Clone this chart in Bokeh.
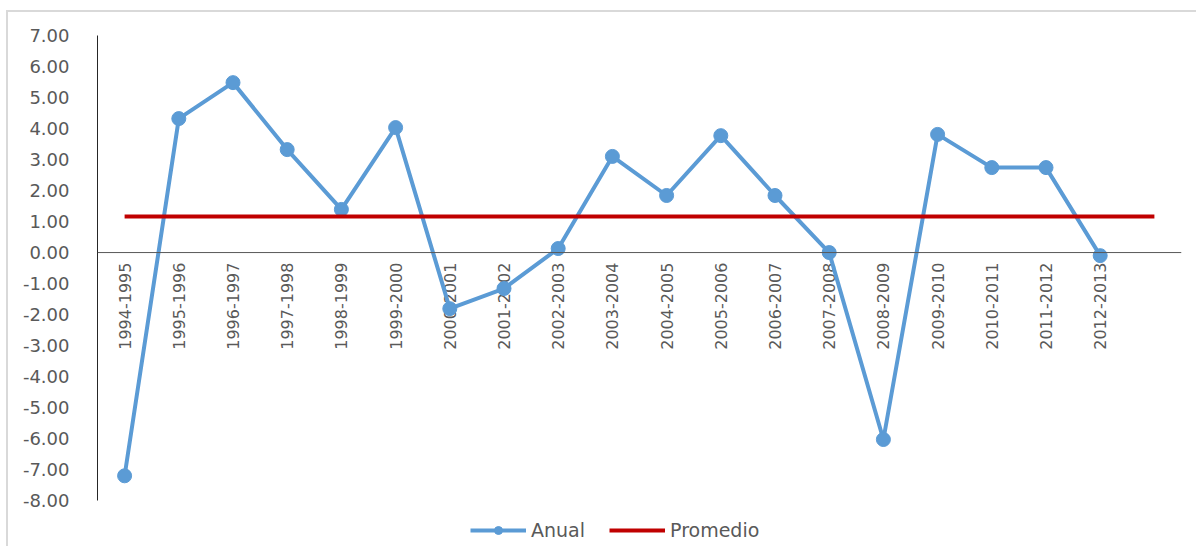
import math
from bokeh.plotting import figure
from bokeh.models import (ColumnDataSource, FixedTicker, PrintfTickFormatter, Span,
                          Legend, LegendItem, FactorRange)
from bokeh.core.properties import value
from bokeh.embed import file_html
from bokeh.resources import INLINE

# ---- data ----
periods = ["1994-1995", "1995-1996", "1996-1997", "1997-1998", "1998-1999",
           "1999-2000", "2000-2001", "2001-2002", "2002-2003", "2003-2004",
           "2004-2005", "2005-2006", "2006-2007", "2007-2008", "2008-2009",
           "2009-2010", "2010-2011", "2011-2012", "2012-2013"]
anual = [-7.20, 4.32, 5.48, 3.32, 1.39, 4.03, -1.81, -1.16, 0.13, 3.10,
         1.84, 3.77, 1.84, 0.00, -6.03, 3.81, 2.74, 2.74, -0.10]
extra_slot = [" "]          # empty 20th category (average line reaches it)
promedio_value = 1.16
y_ticks = [-8, -7, -6, -5, -4, -3, -2, -1, 0, 1, 2, 3, 4, 5, 6, 7]

factors = periods + extra_slot
promedio = [promedio_value] * len(factors)

FONT = "DejaVu Sans"
GREY = "#595959"
BLUE = "#5B9BD5"
RED = "#C00000"

# frame extends below the axis range so the legend can sit inside it
p = figure(x_range=FactorRange(*factors), y_range=(-9.48, 7),
           width=1196, height=546, output_backend="svg", toolbar_location=None,
           min_border_left=97, min_border_right=15, min_border_top=35, min_border_bottom=0)

# light grey chart-area border (top and left edges visible in the reference)
p.border_fill_color = None
p.background_fill_color = "white"
p.styles = {
    "background": ("linear-gradient(#d9d9d9,#d9d9d9) 7px 10px / 1189px 2px no-repeat, "
                   "linear-gradient(#d9d9d9,#d9d9d9) 6px 10px / 2px 536px no-repeat, white"),
}

p.outline_line_color = None
p.xgrid.visible = False
p.ygrid.visible = False
p.xaxis.visible = False

p.yaxis.bounds = (-8, 7)
p.yaxis.ticker = FixedTicker(ticks=y_ticks)
p.yaxis.formatter = PrintfTickFormatter(format="%.2f")
p.yaxis.major_tick_line_color = None
p.yaxis.minor_tick_line_color = None
p.yaxis.axis_line_color = "#262626"
p.yaxis.major_label_standoff = 22
p.yaxis.major_label_text_font = FONT
p.yaxis.major_label_text_font_size = "18px"
p.yaxis.major_label_text_color = GREY

p.add_layout(Span(location=0, dimension="width", line_color="#595959", line_width=1))

# category labels sitting under the zero line
lab_src = ColumnDataSource(dict(x=periods, y=[0] * len(periods), t=periods))
p.text(x="x", y="y", text="t", source=lab_src, angle=math.pi / 2,
       text_align="right", text_baseline="middle", y_offset=10,
       text_font=value(FONT), text_font_size="16px", text_color=GREY)

src = ColumnDataSource(dict(x=periods, y=anual))
prom_src = ColumnDataSource(dict(x=factors, y=promedio))

r_line = p.line("x", "y", source=src, line_color=BLUE, line_width=4)
r_pts = p.scatter("x", "y", source=src, size=14, color=BLUE)
r_prom = p.line("x", "y", source=prom_src, line_color=RED, line_width=4)

legend = Legend(items=[LegendItem(label="Anual", renderers=[r_line, r_pts]),
                       LegendItem(label="Promedio", renderers=[r_prom])],
                orientation="horizontal", location=(373, 5),
                glyph_width=56, glyph_height=20, label_standoff=5, spacing=24,
                padding=4, margin=0,
                border_line_color=None, background_fill_color=None,
                label_text_font=FONT, label_text_font_size="19px",
                label_text_color=GREY)
p.add_layout(legend, "center")

open("out.html", "w").write(file_html(p, INLINE))
